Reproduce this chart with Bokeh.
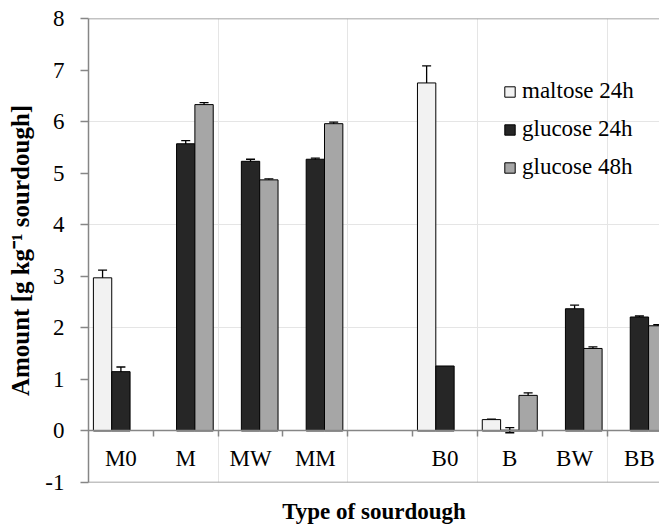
import math
from bokeh.plotting import figure
from bokeh.models import (Range1d, LinearAxis, FixedTicker, Whisker, TeeHead,
                          ColumnDataSource, Legend, LegendItem, Span)
from bokeh.embed import file_html
from bokeh.resources import INLINE

nan = float("nan")

# ---- data ----
categories = ["M0", "M", "MW", "MM", "", "B0", "B", "BW", "BB"]
series_names = ["maltose 24h", "glucose 24h", "glucose 48h"]
maltose_24h = [2.97, nan, nan, nan, nan, 6.75, 0.22, nan, nan]
maltose_24h_err = [0.15, nan, nan, nan, nan, 0.33, 0.01, nan, nan]
glucose_24h = [1.15, 5.57, 5.23, 5.27, nan, 1.26, 0.015, 2.37, 2.21]
glucose_24h_err = [0.09, 0.06, 0.04, 0.02, nan, nan, 0.05, 0.07, 0.02]
glucose_48h = [nan, 6.33, 4.87, 5.96, nan, nan, 0.69, 1.60, 2.04]
glucose_48h_err = [nan, 0.04, 0.02, 0.03, nan, nan, 0.05, 0.03, 0.02]
y_ticks = [-1, 0, 1, 2, 3, 4, 5, 6, 7, 8]

values = [maltose_24h, glucose_24h, glucose_48h]
errors = [maltose_24h_err, glucose_24h_err, glucose_48h_err]
colors = ["#f2f2f2", "#262626", "#a6a6a6"]

FONT = "Liberation Serif"
GRAY = "#868686"
bar_w = 0.283
offsets = [-bar_w, 0.0, bar_w]

p = figure(width=659, height=529, output_backend="svg", toolbar_location=None,
           x_range=Range1d(0, 8.81), y_range=Range1d(-1, 8),
           x_axis_location=None, y_axis_location=None,
           min_border_left=88, min_border_top=18, min_border_right=0,
           min_border_bottom=47)
p.outline_line_color = None
p.background_fill_color = "white"

centers = [i + 0.5 for i in range(len(categories))]
boundaries = [i for i in range(1, len(categories))]

legend_items = []
for j, name in enumerate(series_names):
    xs = [c + offsets[j] for c in centers]
    vals = values[j]
    errs = errors[j]
    src = ColumnDataSource(dict(
        x=xs, top=vals,
        upper=[v + e for v, e in zip(vals, errs)],
        lower=[v - e for v, e in zip(vals, errs)]))
    r = p.vbar(x="x", top="top", bottom=0, width=bar_w, source=src,
               fill_color=colors[j], line_color="black", line_width=1)
    legend_items.append(LegendItem(label=name, renderers=[r]))
    wh = Whisker(base="x", upper="upper", lower="lower", source=src,
                 line_color="black", line_width=1.3,
                 upper_head=TeeHead(size=9, line_color="black", line_width=1.3),
                 lower_head=TeeHead(size=9, line_color="black", line_width=1.3))
    p.add_layout(wh)

# borders top and bottom of plot area
p.add_layout(Span(location=8, dimension="width", line_color=GRAY, line_width=1.5))
p.add_layout(Span(location=-1, dimension="width", line_color=GRAY, line_width=1.5))

# y axis
yaxis = LinearAxis(ticker=FixedTicker(ticks=y_ticks, minor_ticks=[]),
                   major_label_overrides={t: str(t) for t in y_ticks},
                   axis_label="Amount [g kg\u207b\u00b9 sourdough]",
                   axis_label_text_font=FONT, axis_label_text_font_style="bold",
                   axis_label_text_font_size="25px", axis_label_standoff=8,
                   axis_label_text_color="black",
                   major_label_text_font=FONT, major_label_text_font_size="23px",
                   major_label_standoff=16, major_tick_out=8, major_tick_in=0,
                   minor_tick_out=0, minor_tick_in=0,
                   axis_line_color=GRAY, axis_line_width=1.5,
                   major_tick_line_color=GRAY, major_tick_line_width=1.5,
                   major_label_text_color="black")
p.add_layout(yaxis, "left")

# x axis crossing at y = 0
xaxis = LinearAxis(ticker=FixedTicker(ticks=centers, minor_ticks=boundaries),
                   fixed_location=0,
                   major_label_overrides={c: lab for c, lab in zip(centers, categories)},
                   major_label_text_font=FONT, major_label_text_font_size="23px",
                   major_label_standoff=9, major_tick_out=0, major_tick_in=0,
                   minor_tick_out=6, minor_tick_in=0,
                   minor_tick_line_color=GRAY, minor_tick_line_width=1.5,
                   axis_line_color=GRAY, axis_line_width=1.5,
                   major_label_text_color="black")
p.add_layout(xaxis, "below")

# x-axis title (axis without line/ticks, at the bottom)
xtitle_axis = LinearAxis(ticker=FixedTicker(ticks=[], minor_ticks=[]),
                         axis_label="Type of sourdough",
                         axis_label_text_font=FONT, axis_label_text_font_style="bold",
                         axis_label_text_font_size="23px", axis_label_standoff=16,
                         axis_label_text_color="black",
                         axis_line_color=None, major_tick_line_color=None,
                         minor_tick_line_color=None,
                         major_tick_out=0, major_tick_in=0,
                         minor_tick_out=0, minor_tick_in=0,
                         major_label_standoff=0)
p.add_layout(xtitle_axis, "below")

legend = Legend(items=legend_items, location=(415, 302), glyph_width=13, glyph_height=13,
                label_text_font=FONT, label_text_font_size="23px", label_height=23,
                label_text_color="black",
                spacing=12, padding=0, margin=0, label_standoff=6,
                border_line_color=None, background_fill_alpha=0)
p.add_layout(legend)

open("out.html", "w").write(file_html(p, INLINE))
